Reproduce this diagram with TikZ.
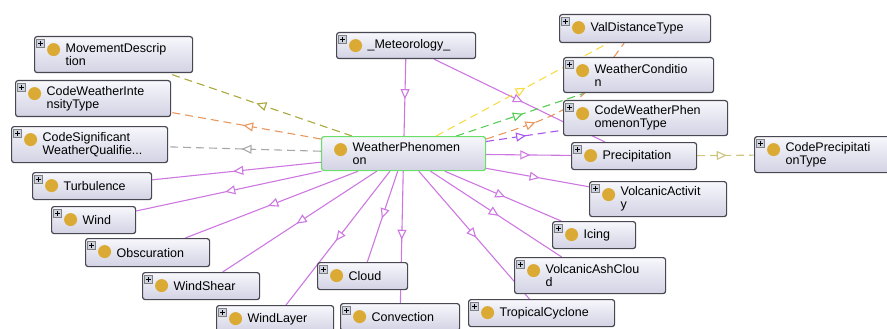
\documentclass[tikz,border=0pt]{standalone}
\usepackage{fontspec}
\setmainfont{Liberation Sans}
\usetikzlibrary{arrows.meta,decorations.markings,backgrounds}
\hyphenpenalty=10000
\exhyphenpenalty=10000

\definecolor{boxtop}{RGB}{247,247,252}
\definecolor{boxbot}{RGB}{210,210,228}
\definecolor{boxline}{RGB}{72,72,82}
\definecolor{focusline}{RGB}{105,222,105}
\definecolor{dotgold}{RGB}{218,170,52}
\definecolor{plusfill}{RGB}{205,210,225}
\definecolor{isacol}{RGB}{205,120,225}
\definecolor{olivec}{RGB}{170,168,60}
\definecolor{orangec}{RGB}{232,152,95}
\definecolor{grayc}{RGB}{168,168,168}
\definecolor{yellowc}{RGB}{248,220,70}
\definecolor{greenc}{RGB}{85,205,85}
\definecolor{violetc}{RGB}{170,85,235}
\definecolor{khakic}{RGB}{205,196,125}

\newcommand{\golddot}{\fill[dotgold] ([xshift=19pt,yshift=-13pt]path picture bounding box.north west) circle (6.5pt);}
\newcommand{\plusicon}{%
  \filldraw[sharp corners, fill=plusfill, draw=gray, line width=0.5pt]
    ([xshift=2pt,yshift=-3pt]path picture bounding box.north west) rectangle ++(8pt,-8pt);
  \draw[sharp corners, black, line width=0.9pt]
    ([xshift=6pt,yshift=-4.8pt]path picture bounding box.north west) -- ++(0pt,-4.4pt)
    ([xshift=3.8pt,yshift=-7pt]path picture bounding box.north west) -- ++(4.4pt,0pt);}

\tikzset{
  cls/.style={draw=boxline, line width=1.2pt, rounded corners=2.5pt,
    top color=boxtop, bottom color=boxbot, anchor=north west, align=left,
    inner xsep=31pt, inner ysep=0pt, font=\fontsize{12.5}{13}\selectfont,
    path picture={\golddot\plusicon}},
  focus/.style={draw=focusline, path picture={\golddot}},
  midarrow/.style={postaction={decorate}, decoration={markings,
    mark=at position #1 with {\arrow{Triangle[length=10pt,width=9pt,fill=white]}}}},
  midarrow/.default=0.52,
  isa/.style={draw=isacol, line width=1.1pt, midarrow},
  dashedge/.style={draw=#1, line width=1.1pt, dash pattern=on 8pt off 5pt},
  prop/.style={dashedge=#1, midarrow},
}

\begin{document}
\begin{tikzpicture}[x=1pt, y=-1pt]
\useasboundingbox (0,0) rectangle (887,329);

% classes, left side
\node[cls, text width=96pt, minimum height=36pt] (movdesc) at (34,36) {MovementDescrip\\tion};
\node[cls, text width=93pt, minimum height=36pt] (intens) at (15,80) {CodeWeatherInte\\nsityType};
\node[cls, text width=94pt, minimum height=36pt] (sigqual) at (11,126) {CodeSignificant\\WeatherQualifie...};
\node[cls, text width=57pt, minimum height=27pt] (turb) at (32,172) {Turbulence};
\node[cls, text width=22pt, minimum height=27pt] (wind) at (51,206) {Wind};
\node[cls, text width=62pt, minimum height=28pt] (obsc) at (85,238) {Obscuration};
\node[cls, text width=55pt, minimum height=27pt] (wshear) at (142,272) {WindShear};
\node[cls, text width=55pt, minimum height=27pt] (wlayer) at (216,305) {WindLayer};
\node[cls, text width=28pt, minimum height=27pt] (cloud) at (317,262) {Cloud};
\node[cls, text width=57pt, minimum height=27pt] (convec) at (340,303) {Convection};

% centre
\node[cls, text width=77pt, minimum height=26pt] (meteo) at (336,32) {\_Meteorology\_};
\node[cls, focus, text width=102pt, minimum height=34pt] (wphen) at (321,136) {WeatherPhenomen\\on};

% classes, right side
\node[cls, text width=89pt, minimum height=28pt] (valdist) at (559,14) {ValDistanceType};
\node[cls, text width=88pt, minimum height=35pt] (wcond) at (563,57) {WeatherConditio\\n};
\node[cls, text width=102pt, minimum height=35pt] (cwpt) at (563,100) {CodeWeatherPhen\\omenonType};
\node[cls, text width=63pt, minimum height=27pt] (precip) at (571,142) {Precipitation};
\node[cls, text width=88pt, minimum height=36pt] (cprecip) at (754,136) {CodePrecipitati\\onType};
\node[cls, text width=75pt, minimum height=35pt] (volcact) at (589,181) {VolcanicActivit\\y};
\node[cls, text width=21pt, minimum height=27pt] (icing) at (552,221) {Icing};
\node[cls, text width=89pt, minimum height=36pt] (vashc) at (514,257) {VolcanicAshClou\\d};
\node[cls, text width=84pt, minimum height=27pt] (tropc) at (468,299) {TropicalCyclone};

% edges
\begin{scope}[on background layer]
  \foreach \n in {turb,wind,obsc,wshear,wlayer,cloud,convec,tropc,vashc,icing,volcact,precip}
    \draw[isa] (wphen) -- (\n);
  \draw[isa] (meteo) -- (wphen);
  \draw[isa] (meteo) -- (precip);
  \draw[prop=olivec] (wphen) -- (movdesc);
  \draw[prop=orangec] (wphen) -- (intens);
  \draw[prop=grayc] (wphen) -- (sigqual);
  \draw[prop=yellowc] (wphen) -- (valdist);
  \draw[prop=greenc] (wphen) -- (wcond);
  \draw[prop=violetc] (wphen) -- (cwpt);
  \draw[dashedge=orangec, midarrow=0.3] ([yshift=-3pt]wphen.north east)
    .. controls (575,110) .. ([xshift=-11pt]valdist.south);
  \draw[prop=khakic] (precip) -- (cprecip);
\end{scope}
\end{tikzpicture}
\end{document}
